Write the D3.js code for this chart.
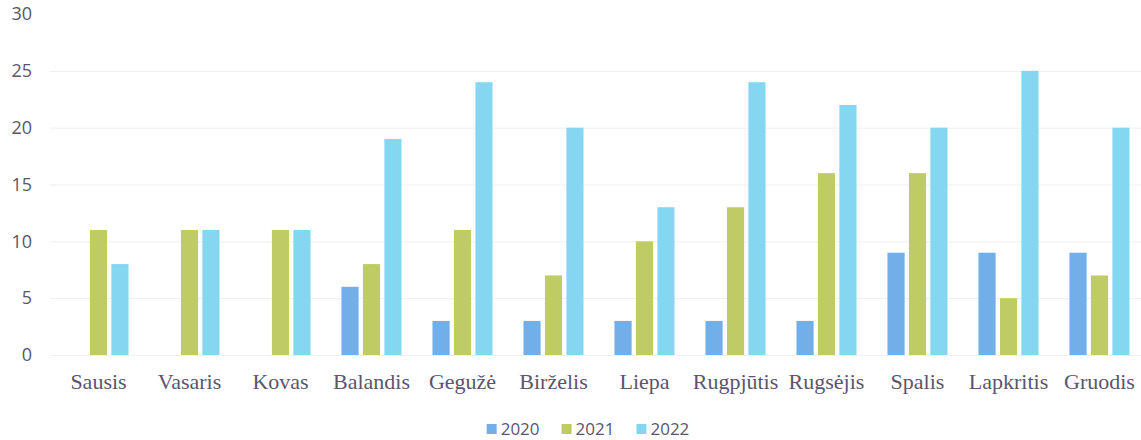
<!DOCTYPE html>
<html>
<head>
<meta charset="utf-8">
<script src="https://cdn.jsdelivr.net/npm/d3@7"></script>
<style>
  body { margin: 0; background: #fff; }
  svg { display: block; }
</style>
</head>
<body>
<div id="chart"></div>
<script>
var months = ["Sausis", "Vasaris", "Kovas", "Balandis", "Gegužė", "Birželis",
              "Liepa", "Rugpjūtis", "Rugsėjis", "Spalis", "Lapkritis", "Gruodis"];
var years = ["2020", "2021", "2022"];
var values2020 = [0, 0, 0, 6, 3, 3, 3, 3, 3, 9, 9, 9];
var values2021 = [11, 11, 11, 8, 11, 7, 10, 13, 16, 16, 5, 7];
var values2022 = [8, 11, 11, 19, 24, 20, 13, 24, 22, 20, 25, 20];
var yTicks = [0, 5, 10, 15, 20, 25, 30];
var colors = ["#72aee8", "#bfcc64", "#85d7f1"];

var series = [values2020, values2021, values2022];
var width = 1141, height = 440;
var textColor = "#5b556e";

var svg = d3.select("#chart").append("svg")
    .attr("width", width)
    .attr("height", height);

var x0 = d3.scaleBand()
    .domain(months)
    .range([53, 1145])
    .paddingInner(0.34)
    .paddingOuter(0.17);

var x1 = d3.scaleBand()
    .domain(years)
    .range([0, x0.bandwidth()])
    .paddingInner(0.2);

var y = d3.scaleLinear()
    .domain([0, 30])
    .range([355, 14]);

// grid lines
svg.append("g")
    .selectAll("line")
    .data(yTicks.filter(function (d) { return d < 30; }))
    .enter().append("line")
    .attr("x1", 50)
    .attr("x2", width)
    .attr("y1", function (d) { return y(d) + 0.5; })
    .attr("y2", function (d) { return y(d) + 0.5; })
    .attr("stroke", "#efefef")
    .attr("stroke-width", 1);

// y labels
svg.append("g")
    .attr("font-family", "'Open Sans', sans-serif")
    .attr("font-size", 18)
    .attr("fill", textColor)
    .attr("text-anchor", "end")
    .selectAll("text")
    .data(yTicks)
    .enter().append("text")
    .attr("x", 32)
    .attr("y", function (d) { return y(d); })
    .attr("dy", "0.35em")
    .text(function (d) { return d; });

// bars
var groups = svg.append("g")
    .selectAll("g")
    .data(months)
    .enter().append("g")
    .attr("transform", function (d) { return "translate(" + x0(d) + ",0)"; });

groups.selectAll("rect")
    .data(function (m, i) {
        return years.map(function (yr, j) {
            return { year: yr, value: series[j][i], color: colors[j] };
        });
    })
    .enter().append("rect")
    .attr("x", function (d) { return x1(d.year); })
    .attr("width", x1.bandwidth())
    .attr("y", function (d) { return y(d.value); })
    .attr("height", function (d) { return y(0) - y(d.value); })
    .attr("fill", function (d) { return d.color; });

// month labels
svg.append("g")
    .attr("font-family", "'Liberation Serif', 'Times New Roman', serif")
    .attr("font-size", 22)
    .attr("fill", textColor)
    .attr("text-anchor", "middle")
    .selectAll("text")
    .data(months)
    .enter().append("text")
    .attr("x", function (d) { return x0(d) + x0.bandwidth() / 2; })
    .attr("y", 389)
    .text(function (d) { return d; });

// legend
var legend = svg.append("g")
    .attr("font-family", "'Open Sans', sans-serif")
    .attr("font-size", 17)
    .attr("fill", textColor);

var lx = 0;
years.forEach(function (yr, i) {
    var item = legend.append("g").attr("transform", "translate(" + lx + ",0)");
    item.append("rect")
        .attr("x", 0).attr("y", 424)
        .attr("width", 10).attr("height", 10)
        .attr("fill", colors[i]);
    var t = item.append("text")
        .attr("x", 14).attr("y", 435)
        .text(yr);
    lx += 14 + t.node().getComputedTextLength() + 22;
});
var legendWidth = lx - 22;
legend.attr("transform", "translate(" + (588 - legendWidth / 2) + ",0)");
</script>
</body>
</html>
